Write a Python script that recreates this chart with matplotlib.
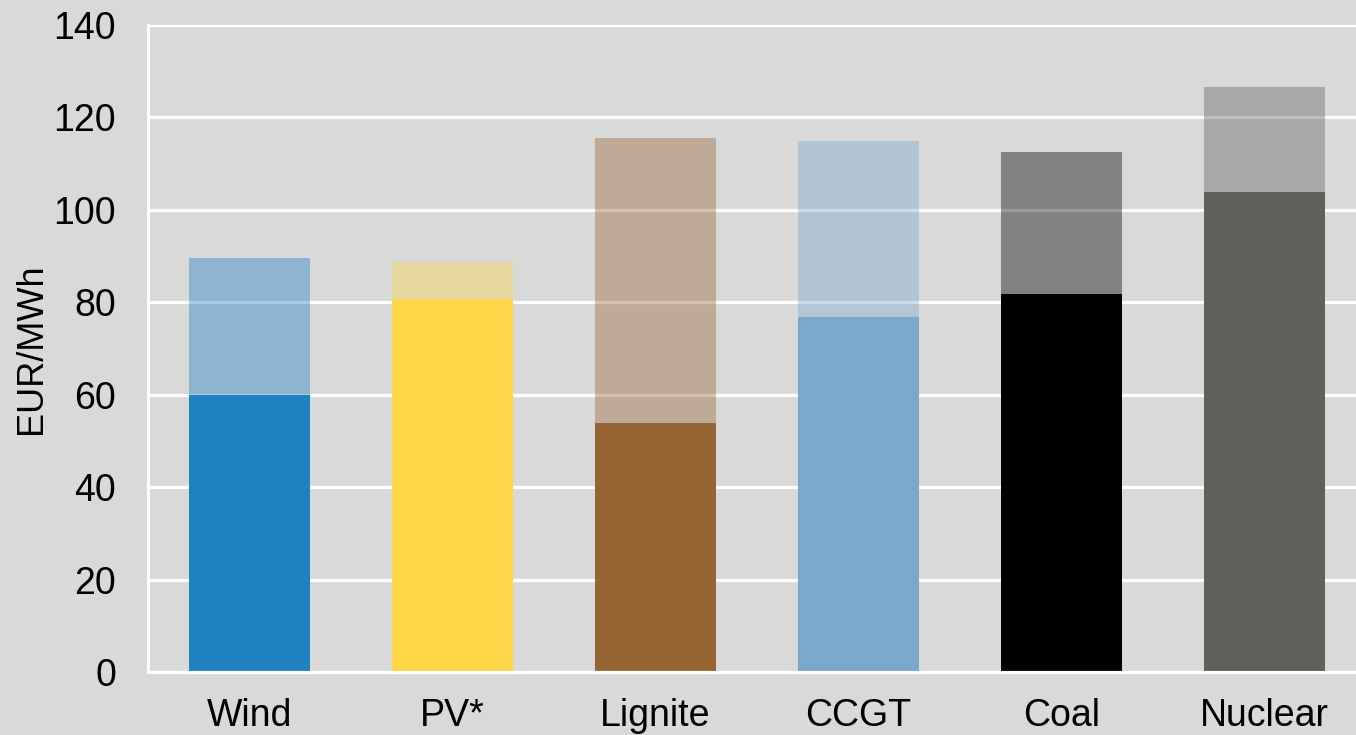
import matplotlib
matplotlib.use("Agg")
import matplotlib.pyplot as plt

# Generation cost by technology, EUR/MWh
technologies = ["Wind", "PV*", "Lignite", "CCGT", "Coal", "Nuclear"]
base_cost = [60, 80.7, 53.8, 76.9, 81.9, 103.8]
total_cost = [89.5, 88.8, 115.5, 115.0, 112.5, 126.5]
colours = ["#1f81c0", "#fed748", "#976433", "#7aa8cb", "#000000", "#5f605a"]

bg = "#d9d9d9"
plt.rcParams["font.family"] = ["Liberation Sans", "DejaVu Sans"]

fig = plt.figure(figsize=(13.56, 7.35), dpi=100, facecolor=bg)
ax = fig.add_axes([148 / 1356, 63 / 735, 1218 / 1356, 647 / 735])
ax.set_facecolor(bg)

x = range(len(technologies))
upper = [t - b for t, b in zip(total_cost, base_cost)]

# solid lower part, translucent upper part on top of it
ax.bar(x, base_cost, width=0.6, color=colours, zorder=3)
ax.bar(x, upper, bottom=base_cost, width=0.6, color=colours, alpha=0.4, zorder=3)

ax.set_xlim(-0.5, 5.5)
ax.set_ylim(0, 140)
ax.set_yticks(range(0, 141, 20))
ax.set_xticks(list(x))
ax.set_xticklabels(technologies)

ax.grid(axis="y", color="white", linewidth=2.3, zorder=1)
ax.set_axisbelow(True)
for side in ["top", "right"]:
    ax.spines[side].set_visible(False)
for side in ["left", "bottom"]:
    ax.spines[side].set_color("white")
    ax.spines[side].set_linewidth(2.3)
    ax.spines[side].set_zorder(4)

ax.tick_params(axis="both", length=0, labelsize=27, colors="black")
ax.tick_params(axis="y", pad=23)
ax.tick_params(axis="x", pad=19)

ax.set_ylabel("EUR/MWh", fontsize=26)
ax.yaxis.set_label_coords(-0.081, 0.5)

fig.savefig("out.png", dpi=100, facecolor=bg)
